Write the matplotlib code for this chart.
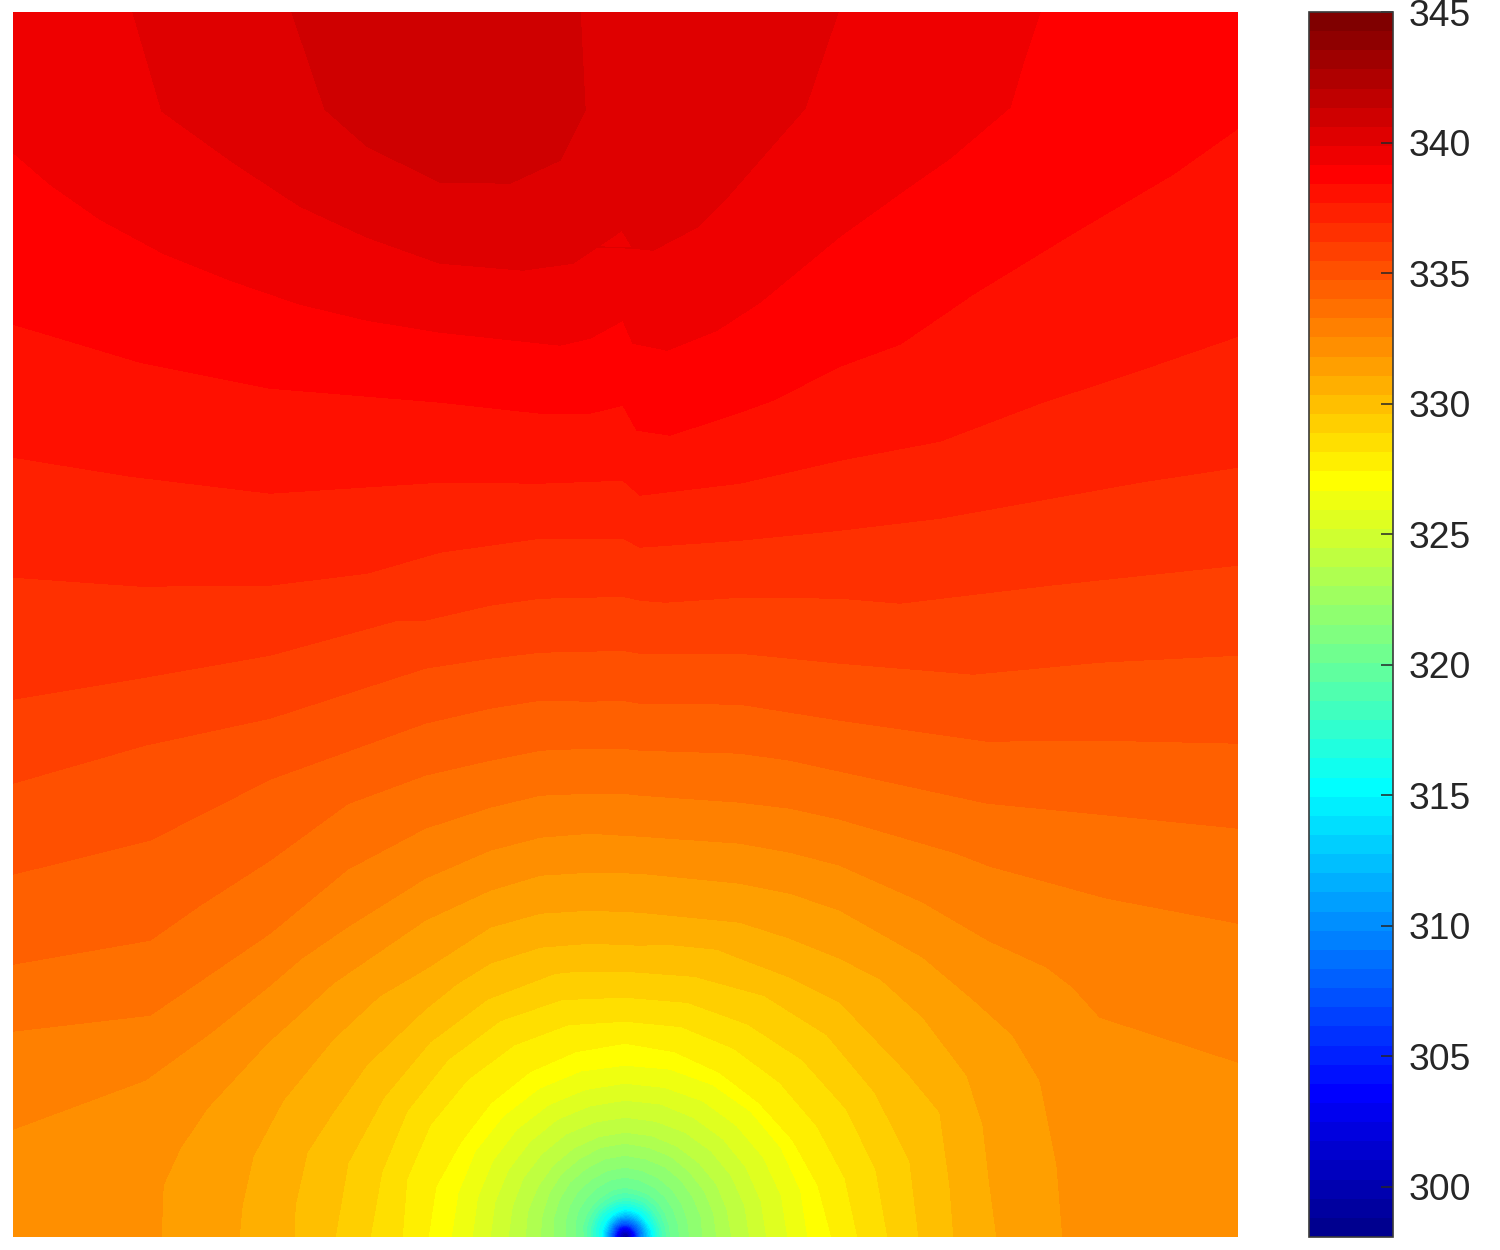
"""
Filled temperature contour map with a source at the bottom centre.
All field values were read off the reference picture, as the position of the
band boundaries. x is the offset from the source, y the height above it.
"""

import numpy as np
import matplotlib
matplotlib.use('Agg')
import matplotlib.pyplot as plt
from matplotlib.colors import ListedColormap, Normalize
from matplotlib.cm import ScalarMappable


"""################DATA################"""
cbarMin = 298.08
cbarMax = 345
numBands = 64
cbarTicks = [300, 305, 310, 315, 320, 325, 330, 335, 340, 345]

# Band boundaries, named by the number of bands above cbarMin
lev58x = [-333, -300, -258, -185, -115, -65, -40, -45]
lev58y = [1225, 1128, 1091, 1055, 1054, 1077, 1127, 1225]
lev57x = [-492, -463, -392, -325, -258, -185, -102, -52, -28, -3, 8, 28, 72, 102, 180, 213]
lev57y = [1225, 1126, 1075, 1031, 1000, 974, 967, 974, 990, 1007, 989, 987, 1010, 1040, 1129, 1225]
lev56x = [-612, -575, -525, -462, -392, -325, -258, -185, -65, -35, -2, 8, 42, 92, 135, 215, 282, 325, 385, 398, 415]
lev56y = [1085, 1053, 1018, 984, 956, 933, 917, 905, 892, 899, 917, 894, 887, 907, 935, 1001, 1049, 1079, 1130, 1174, 1225]
lev55x = [-612, -485, -355, -185, -85, -35, -2, 12, 45, 115, 148, 215, 275, 348, 448, 548, 613]
lev55y = [913, 875, 849, 835, 824, 824, 832, 807, 802, 825, 837, 871, 893, 943, 1004, 1063, 1109]
lev54x = [-612, -495, -355, -185, -85, -2, 15, 115, 215, 315, 415, 515, 613]
lev54y = [780, 761, 744, 755, 754, 757, 742, 754, 777, 796, 834, 867, 901]
lev53x = [-612, -485, -355, -258, -185, -85, -2, 15, 115, 215, 315, 415, 515, 613]
lev53y = [660, 651, 652, 664, 685, 699, 699, 690, 697, 707, 719, 737, 755, 770]
lev52x = [-612, -480, -355, -200, -135, -85, -35, -3, 15, 40, 115, 215, 275, 425, 613]
lev52y = [538, 560, 582, 617, 632, 639, 640, 641, 637, 635, 640, 639, 634, 652, 672]
lev51x = [-612, -480, -355, -200, -135, -85, -35, -3, 15, 115, 165, 215, 348, 475, 613]
lev51y = [454, 492, 519, 569, 579, 585, 586, 587, 584, 584, 579, 574, 563, 575, 582]
lev50x = [-612, -475, -355, -200, -135, -85, -35, -3, 15, 115, 165, 215, 362, 475, 613]
lev50y = [363, 397, 458, 514, 529, 537, 536, 537, 534, 533, 525, 517, 496, 497, 494]
lev49x = [-612, -475, -425, -355, -200, -135, -85, -35, -3, 15, 115, 165, 215, 362, 475, 613]
lev49y = [273, 297, 332, 377, 462, 477, 487, 489, 489, 487, 484, 477, 466, 434, 423, 409]
lev48x = [-612, -475, -415, -355, -200, -135, -85, -35, -3, 15, 115, 165, 215, 365, 482, 613]
lev48y = [206, 222, 263, 304, 409, 430, 442, 444, 444, 442, 435, 429, 418, 371, 339, 314]
lev47x = [-612, -480, -415, -355, -200, -135, -85, -35, -3, 15, 115, 165, 215, 298, 365, 422, 448, 475, 613]
lev47y = [108, 157, 204, 252, 359, 387, 400, 404, 402, 401, 394, 385, 372, 335, 296, 270, 250, 220, 175]
lev46x = [-464, -462, -445, -418, -358, -292, -200, -135, -85, -35, 15, 115, 165, 215, 298, 348, 388, 415, 432, 438]
lev46y = [0, 52, 89, 129, 194, 254, 317, 347, 362, 365, 364, 354, 344, 327, 280, 238, 202, 157, 73, 0]
lev45x = [-386, -383, -372, -342, -292, -200, -135, -85, -35, 15, 115, 165, 215, 298, 342, 358, 365, 372]
lev45y = [0, 32, 81, 137, 198, 268, 310, 324, 327, 325, 315, 299, 279, 220, 162, 113, 52, 0]
lev44x = [-331, -330, -318, -292, -258, -200, -135, -85, -35, 15, 115, 165, 215, 282, 315, 325, 329]
lev44y = [0, 32, 85, 125, 173, 228, 274, 290, 294, 292, 279, 260, 235, 165, 125, 52, 0]

# Closed rings around the source: radius along thirteen directions, left to right
ringLevel = [43, 42, 41, 40, 39, 38, 37, 36, 35, 34, 33, 32, 31, 30, 28, 26, 24, 20, 16, 12, 8, 4]
ringDeg180 = [290, 255, 223, 197, 174, 153, 135, 117, 100, 85, 72, 60, 50, 42, 35, 30, 24, 20, 16, 12, 9, 5]
ringDeg165 = [287, 252, 226, 196, 173, 153, 135, 117, 101, 86, 74, 62, 52, 44, 36, 31, 25, 20, 16, 12, 9, 5]
ringDeg150 = [279, 252, 225, 190, 173, 153, 135, 118, 101, 88, 76, 64, 54, 45, 37, 32, 25, 20, 16, 12, 9, 5]
ringDeg135 = [276, 251, 223, 190, 172, 153, 135, 118, 102, 90, 78, 66, 55, 46, 38, 33, 26, 21, 17, 13, 9, 5]
ringDeg120 = [275, 250, 222, 191, 172, 153, 136, 119, 103, 91, 79, 67, 57, 47, 38, 33, 27, 22, 17, 13, 10, 5]
ringDeg105 = [273, 246, 220, 192, 172, 153, 136, 119, 104, 93, 81, 69, 59, 49, 39, 34, 28, 22, 18, 13, 10, 5]
ringDeg90 = [266, 240, 216, 194, 172, 154, 137, 120, 105, 94, 82, 70, 60, 50, 40, 34, 29, 23, 18, 13, 10, 5]
ringDeg75 = [270, 243, 218, 192, 174, 155, 138, 120, 105, 93, 81, 69, 59, 49, 40, 34, 29, 23, 18, 13, 10, 5]
ringDeg60 = [279, 246, 218, 190, 176, 157, 138, 121, 105, 93, 81, 68, 58, 49, 40, 34, 29, 23, 18, 13, 10, 5]
ringDeg45 = [286, 251, 219, 190, 178, 158, 139, 122, 105, 92, 80, 67, 57, 48, 39, 34, 28, 23, 18, 13, 10, 5]
ringDeg30 = [289, 256, 222, 194, 180, 160, 140, 123, 106, 92, 79, 66, 56, 47, 38, 33, 28, 23, 18, 13, 10, 5]
ringDeg15 = [295, 260, 228, 200, 182, 162, 141, 124, 106, 92, 79, 65, 55, 46, 38, 33, 29, 23, 18, 13, 10, 5]
ringDeg0 = [294, 263, 233, 207, 183, 163, 142, 125, 107, 92, 78, 65, 55, 46, 38, 33, 29, 23, 17, 13, 9, 5]

# Single readings inside a band: corners, the top maximum, the kinks above the
# source and the source itself
spotX = [-612, 613, -612, 613, -185, -185, -4, -3, -3, -3, -35, 2]
spotY = [1225, 1225, 0, 0, 1225, 1130, 998, 903, 820, 748, 894, 0]
spotLevel = [56.5, 55.5, 46.5, 46.5, 58.5, 58.5, 56.8, 55.8, 54.8, 53.8, 55.9, 0.2]


"""################FUNCTIONS################"""
def matlab_jet(n):
    # matplotlib's own jet has other break points than the one in the picture
    pos = np.arange(1, n + 1) / n
    r = np.clip(np.minimum(4 * pos - 1.5, -4 * pos + 4.5), 0, 1)
    g = np.clip(np.minimum(4 * pos - 0.5, -4 * pos + 3.5), 0, 1)
    b = np.clip(np.minimum(4 * pos + 0.5, -4 * pos + 2.5), 0, 1)
    return ListedColormap(np.column_stack([r, g, b]))


def collect_points(band):
    curves = [(58, lev58x, lev58y), (57, lev57x, lev57y), (56, lev56x, lev56y),
              (55, lev55x, lev55y), (54, lev54x, lev54y), (53, lev53x, lev53y),
              (52, lev52x, lev52y), (51, lev51x, lev51y), (50, lev50x, lev50y),
              (49, lev49x, lev49y), (48, lev48x, lev48y), (47, lev47x, lev47y),
              (46, lev46x, lev46y), (45, lev45x, lev45y), (44, lev44x, lev44y)]
    x, y, k = [], [], []
    for level, cx, cy in curves:
        x += cx
        y += cy
        k += [level] * len(cx)

    angles = np.radians(np.arange(180, -1, -15))
    radii = [ringDeg180, ringDeg165, ringDeg150, ringDeg135, ringDeg120, ringDeg105, ringDeg90,
             ringDeg75, ringDeg60, ringDeg45, ringDeg30, ringDeg15, ringDeg0]
    for ang, rad in zip(angles, radii):
        x += list(np.array(rad) * np.cos(ang))
        y += list(np.array(rad) * np.sin(ang))
        k += ringLevel

    x += spotX
    y += spotY
    k += spotLevel
    return np.array(x, float), np.array(y, float), cbarMin + np.array(k) * band


def main():
    band = (cbarMax - cbarMin) / numBands
    levels = cbarMin + np.arange(numBands + 1) * band
    x, y, z = collect_points(band)

    cmap = matlab_jet(numBands)
    norm = Normalize(cbarMin, cbarMax)

    fig = plt.figure(figsize=(15, 12.5), dpi=100)
    ax = fig.add_axes([13 / 1500, 13 / 1250, 1225 / 1500, 1225 / 1250])
    cs = ax.tricontourf(x, y, z, levels=levels, cmap=cmap, norm=norm)
    cs.set_edgecolor('face')
    cs.set_linewidth(0.3)
    ax.set_xlim(-612, 613)
    ax.set_ylim(0, 1225)
    ax.axis('off')

    cax = fig.add_axes([1309 / 1500, 13 / 1250, 84 / 1500, 1225 / 1250])
    cbar = fig.colorbar(ScalarMappable(norm=norm, cmap=cmap), cax=cax, ticks=cbarTicks)
    cbar.outline.set_edgecolor('#3a3a3a')
    cbar.outline.set_linewidth(1.2)
    cax.tick_params(direction='in', length=9, width=1.1, color='#262626', pad=11.5,
                    labelsize=26.8, labelcolor='#262626', right=True, left=False)
    for label in cax.get_yticklabels():
        label.set_family('Liberation Sans')

    fig.savefig('out.png', dpi=100)


if __name__ == '__main__':
    main()
